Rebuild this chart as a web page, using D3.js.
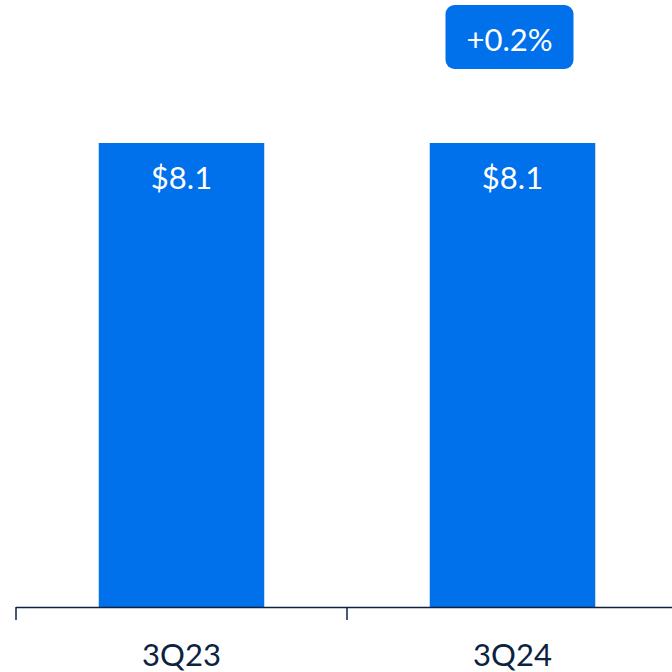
<!DOCTYPE html>
<html><head><meta charset="utf-8">
<script src="https://cdn.jsdelivr.net/npm/d3@7"></script>
<style>html,body{margin:0;padding:0;background:#fff}svg{display:block}</style>
</head><body>
<svg id="c" width="672" height="672"></svg>
<script>
const categories = ["3Q23", "3Q24"];
const values = [8.1, 8.1];
const valueLabels = ["$8.1", "$8.1"];
const changeLabel = "+0.2%";

const svg = d3.select("#c");
const font = "Lato, 'Noto Sans', sans-serif";
const blue = "#0070EB";
const navy = "#0B2341";

const x = d3.scaleBand().domain(categories).range([16, 678]).paddingInner(0.5).paddingOuter(0.25);
const y = d3.scaleLinear().domain([0, 8.1]).range([607, 143]);

svg.selectAll("rect.bar").data(values).join("rect")
  .attr("class", "bar")
  .attr("x", (d, i) => x(categories[i]))
  .attr("width", x.bandwidth())
  .attr("y", d => y(d))
  .attr("height", d => y(0) - y(d))
  .attr("fill", blue);

svg.selectAll("text.val").data(values).join("text")
  .attr("class", "val")
  .attr("x", (d, i) => x(categories[i]) + x.bandwidth() / 2)
  .attr("y", d => y(d) + 46)
  .attr("text-anchor", "middle")
  .attr("fill", "#fff")
  .attr("font-family", font)
  .attr("font-size", 31)
  .text((d, i) => valueLabels[i]);

// axis
const step = x.step();
const tickXs = [16, 16 + step, 16 + 2 * step];
svg.append("line").attr("x1", 16).attr("x2", 678).attr("y1", 607.5).attr("y2", 607.5)
  .attr("stroke", navy).attr("stroke-width", 1.5);
svg.selectAll("line.tick").data(tickXs).join("line")
  .attr("class", "tick")
  .attr("x1", d => d).attr("x2", d => d)
  .attr("y1", 607).attr("y2", 620)
  .attr("stroke", navy).attr("stroke-width", 1.5);

svg.selectAll("text.cat").data(categories).join("text")
  .attr("class", "cat")
  .attr("x", d => x(d) + x.bandwidth() / 2)
  .attr("y", 666)
  .attr("text-anchor", "middle")
  .attr("fill", navy)
  .attr("font-family", font)
  .attr("font-size", 31)
  .text(d => d);

// change badge
const bx = x(categories[1]) + x.bandwidth() / 2 - 3;
const badge = svg.append("g");
badge.append("rect").attr("x", bx - 64).attr("y", 5).attr("width", 128).attr("height", 64)
  .attr("rx", 9).attr("fill", blue);
badge.append("text").attr("x", bx).attr("y", 51).attr("text-anchor", "middle")
  .attr("fill", "#fff").attr("font-family", font).attr("font-size", 31).text(changeLabel);
</script>
</body></html>
